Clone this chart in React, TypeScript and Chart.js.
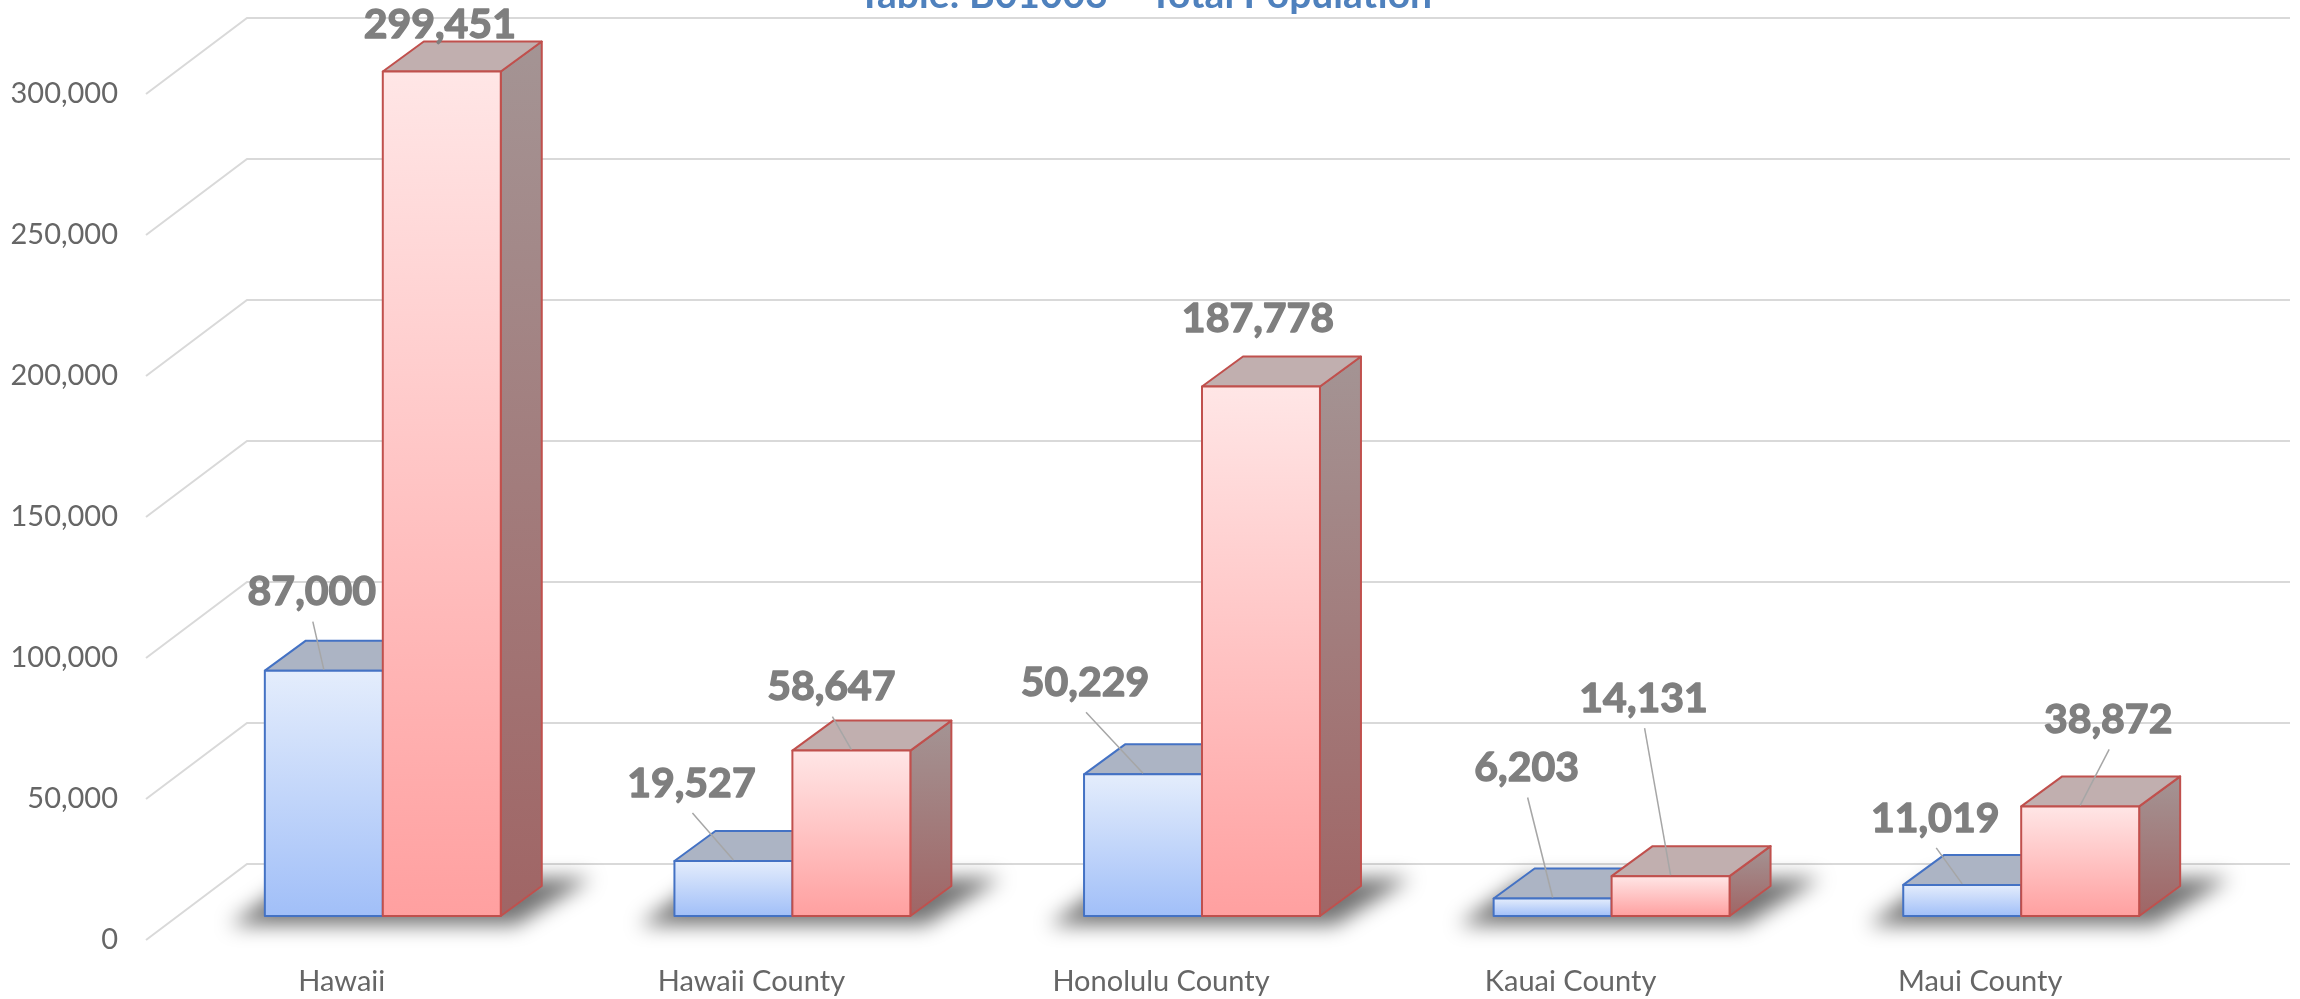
import React, { useEffect, useRef } from 'react';
import { Chart, registerables } from 'chart.js';

Chart.register(...registerables);

// ---------- data ----------
const categories = ['Hawaii', 'Hawaii County', 'Honolulu County', 'Kauai County', 'Maui County'];
const seriesA = [87000, 19527, 50229, 6203, 11019];
const seriesB = [299451, 58647, 187778, 14131, 38872];
const yTickValues = [0, 50000, 100000, 150000, 200000, 250000, 300000];
const titleText = 'Table: B01003 – Total Population';

// data-label offsets (px) relative to the top-front edge centre of each bar
const labelOffsetsA = [[-12, -80], [-42, -79], [-58, -93], [-26, -132], [-27, -68]];
const labelOffsetsB = [[-2, -48], [-20, -65], [-3, -69], [-27, -179], [28, -88]];

// ---------- style ----------
const DEPTH_DX = 41;
const DEPTH_DY = -30;
const FLOOR_DX = -32;
const FLOOR_DY = 24;
const WALL_DX = 69;
const WALL_DY = -52;

const styleA = {
  frontTop: '#E4EDFC', frontBottom: '#A1BFF8', top: '#ACB4C4',
  sideTop: '#9AA6BC', sideBottom: '#7388AE', border: '#4472C4',
};
const styleB = {
  frontTop: '#FFE6E6', frontBottom: '#FFA0A0', top: '#C1AFAF',
  sideTop: '#A49494', sideBottom: '#A06565', border: '#C0504D',
};

function drawBox(ctx: CanvasRenderingContext2D, el: any, st: any) {
  const x0 = el.x - el.width / 2;
  const x1 = el.x + el.width / 2;
  const yt = el.y;
  const yb = el.base;
  ctx.lineWidth = 2;
  ctx.lineJoin = 'round';
  ctx.strokeStyle = st.border;

  // side
  const gs = ctx.createLinearGradient(0, yt + DEPTH_DY, 0, yb);
  gs.addColorStop(0, st.sideTop);
  gs.addColorStop(1, st.sideBottom);
  ctx.beginPath();
  ctx.moveTo(x1, yt);
  ctx.lineTo(x1 + DEPTH_DX, yt + DEPTH_DY);
  ctx.lineTo(x1 + DEPTH_DX, yb + DEPTH_DY);
  ctx.lineTo(x1, yb);
  ctx.closePath();
  ctx.fillStyle = gs;
  ctx.fill();
  ctx.stroke();

  // top
  ctx.beginPath();
  ctx.moveTo(x0, yt);
  ctx.lineTo(x1, yt);
  ctx.lineTo(x1 + DEPTH_DX, yt + DEPTH_DY);
  ctx.lineTo(x0 + DEPTH_DX, yt + DEPTH_DY);
  ctx.closePath();
  ctx.fillStyle = st.top;
  ctx.fill();
  ctx.stroke();

  // front
  const gf = ctx.createLinearGradient(0, yt, 0, yb);
  gf.addColorStop(0, st.frontTop);
  gf.addColorStop(1, st.frontBottom);
  ctx.fillStyle = gf;
  ctx.fillRect(x0, yt, x1 - x0, yb - yt);
  ctx.strokeRect(x0, yt, x1 - x0, yb - yt);
}

const bars3d = {
  id: 'bars3d',
  beforeDatasetsDraw(chart: any) {
    const ctx: CanvasRenderingContext2D = chart.ctx;
    const { left, right } = chart.chartArea;
    const ys = chart.scales.y;
    ctx.save();
    // walls / gridlines
    ctx.strokeStyle = '#D9D9D9';
    ctx.lineWidth = 2;
    ys.ticks.forEach((t: any) => {
      const y = ys.getPixelForValue(t.value);
      ctx.beginPath();
      ctx.moveTo(left + FLOOR_DX, y + FLOOR_DY);
      ctx.lineTo(left + WALL_DX, y + WALL_DY);
      ctx.lineTo(right + WALL_DX - 5, y + WALL_DY);
      ctx.stroke();
    });

    const metaA = chart.getDatasetMeta(0);
    const metaB = chart.getDatasetMeta(1);
    // shadows
    for (let i = 0; i < categories.length; i++) {
      const a = metaA.data[i];
      const b = metaB.data[i];
      const L = a.x - a.width / 2;
      const R = b.x + b.width / 2;
      const base = a.base;
      ctx.save();
      ctx.filter = 'blur(10px)';
      ctx.fillStyle = 'rgba(0,0,0,0.55)';
      ctx.beginPath();
      ctx.moveTo(L - 35, base + 9);
      ctx.lineTo(R + 15, base + 9);
      ctx.lineTo(R + DEPTH_DX + 50, base + DEPTH_DY - 8);
      ctx.lineTo(L + DEPTH_DX - 10, base + DEPTH_DY - 8);
      ctx.closePath();
      ctx.fill();
      ctx.restore();
    }
    // boxes
    for (let i = 0; i < categories.length; i++) {
      drawBox(ctx, metaA.data[i], styleA);
      drawBox(ctx, metaB.data[i], styleB);
    }
    ctx.restore();
  },
  afterDatasetsDraw(chart: any) {
    const ctx: CanvasRenderingContext2D = chart.ctx;
    ctx.save();
    const sets = [
      { meta: chart.getDatasetMeta(0), vals: seriesA, offs: labelOffsetsA },
      { meta: chart.getDatasetMeta(1), vals: seriesB, offs: labelOffsetsB },
    ];
    const fs = 41;
    sets.forEach(({ meta, vals, offs }) => {
      vals.forEach((v, i) => {
        const el = meta.data[i];
        const lx = el.x + offs[i][0];
        const ly = el.y + offs[i][1];
        if (Math.abs(offs[i][0]) > 8) {
          ctx.strokeStyle = '#A6A6A6';
          ctx.lineWidth = 1.5;
          ctx.beginPath();
          ctx.moveTo(lx + 1, ly + 31);
          ctx.lineTo(el.x, el.y - 1);
          ctx.stroke();
        }
        ctx.font = `bold ${fs}px Lato`;
        ctx.fillStyle = '#7F7F7F';
        ctx.strokeStyle = '#7F7F7F';
        ctx.lineWidth = 1.4;
        ctx.lineJoin = 'round';
        ctx.textAlign = 'center';
        ctx.textBaseline = 'alphabetic';
        const txt = v.toLocaleString('en-US');
        ctx.fillText(txt, lx, ly + fs * 0.36);
        ctx.strokeText(txt, lx, ly + fs * 0.36);
      });
    });
    // title (partly above the canvas top, as in the reference)
    ctx.font = 'bold 39px Lato';
    ctx.fillStyle = '#4F81BD';
    ctx.textAlign = 'center';
    ctx.textBaseline = 'alphabetic';
    ctx.fillText(titleText, 1145, 8);
    ctx.restore();
  },
};

export default function App() {
  const ref = useRef<HTMLCanvasElement>(null);
  useEffect(() => {
    document.body.style.margin = '0';
    document.body.style.overflow = 'hidden';
    const chart = new Chart(ref.current as HTMLCanvasElement, {
      type: 'bar',
      data: {
        labels: categories,
        datasets: [
          { label: 'Series 1', data: seriesA, backgroundColor: 'rgba(0,0,0,0)', borderWidth: 0 },
          { label: 'Series 2', data: seriesB, backgroundColor: 'rgba(0,0,0,0)', borderWidth: 0 },
        ],
      },
      options: {
        responsive: false,
        animation: false,
        layout: { padding: { top: 70, right: 74, bottom: 0, left: 0 } },
        datasets: { bar: { categoryPercentage: 0.576, barPercentage: 1 } },
        plugins: {
          legend: { display: false },
          tooltip: { enabled: false },
          title: { display: false },
        },
        scales: {
          x: {
            grid: { display: false, drawTicks: false },
            border: { display: false },
            ticks: {
              font: { family: 'Lato', size: 29 },
              color: '#666666',
              padding: 48,
              labelOffset: -41,
              maxRotation: 0,
              autoSkip: false,
            },
            afterFit: (s: any) => {
              s.height = 83;
              s.paddingLeft = 0;
              s.paddingRight = 0;
            },
          },
          y: {
            min: 0,
            max: 300000,
            grid: { display: false, drawTicks: false },
            border: { display: false },
            afterBuildTicks: (s: any) => { s.ticks = yTickValues.map((v) => ({ value: v })); },
            ticks: {
              font: { family: 'Lato', size: 29 },
              color: '#666666',
              padding: 60,
              labelOffset: 24,
              callback: (v: any) => Number(v).toLocaleString('en-US'),
            },
            afterFit: (s: any) => {
              s.width = 178;
              s.paddingTop = 0;
              s.paddingBottom = 0;
            },
          },
        },
      },
      plugins: [bars3d],
    } as any);
    return () => chart.destroy();
  }, []);
  return (
    <div style={{ position: 'absolute', left: 0, top: 0, width: 2300, height: 999, background: '#fff' }}>
      <canvas ref={ref} width={2300} height={999} style={{ width: 2300, height: 999, display: 'block' }} />
    </div>
  );
}
